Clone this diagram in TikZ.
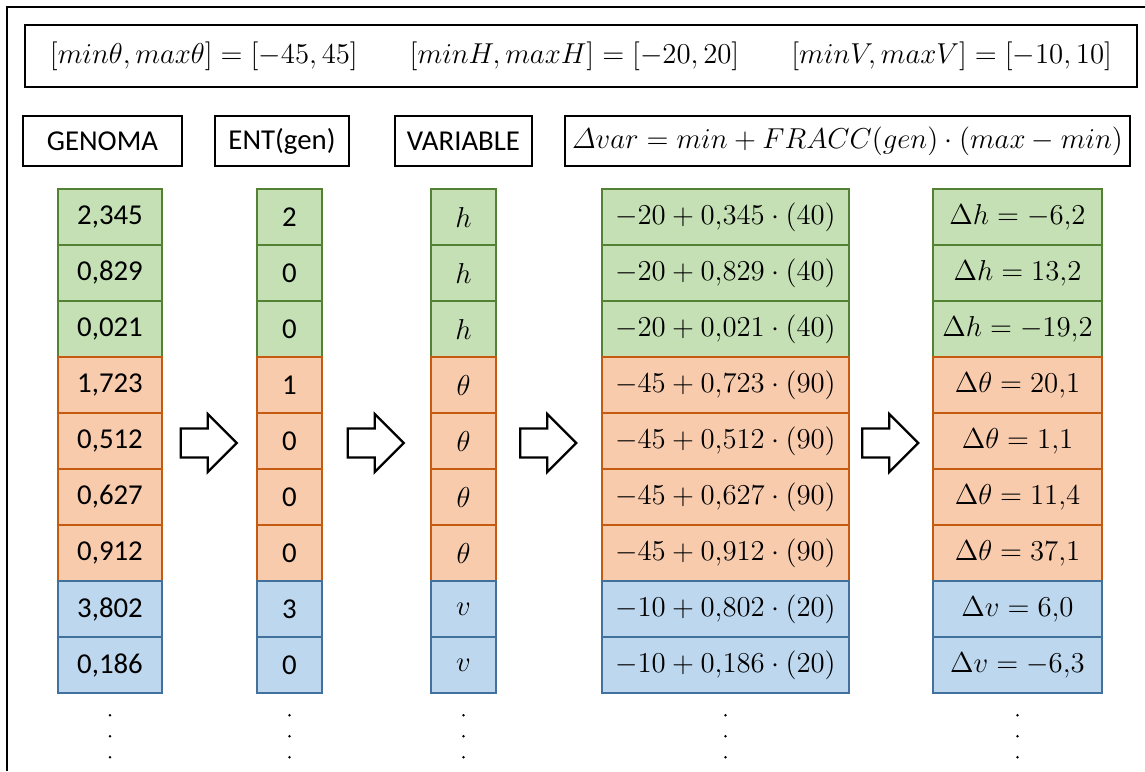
\documentclass[tikz,border=0pt]{standalone}
\usepackage{fontspec}
\setmainfont{Carlito}
\usepackage{tikz}
\usetikzlibrary{shapes.arrows}
\usetikzlibrary{calc}

\definecolor{gfill}{HTML}{C5E0B4}
\definecolor{gline}{HTML}{548235}
\definecolor{ofill}{HTML}{F8CBAD}
\definecolor{oline}{HTML}{C55A11}
\definecolor{bfill}{HTML}{BDD7EE}
\definecolor{bline}{HTML}{41719C}

\tikzset{
  cell/.style={shape=rectangle, line width=1.2pt, minimum height=28pt, inner sep=0pt, font=\fontsize{14.4}{17}\selectfont},
  grn/.style={cell, fill=gfill, draw=gline},
  org/.style={cell, fill=ofill, draw=oline},
  blu/.style={cell, fill=bfill, draw=bline},
  head/.style={shape=rectangle, draw=black, line width=0.8pt, minimum height=25pt, inner sep=0pt, font=\fontsize{14.4}{17}\selectfont},
  blockarrow/.style={single arrow, draw=black, fill=white, line width=1.1pt, minimum height=28pt, minimum width=28pt, inner sep=6.7pt, single arrow head extend=7.3pt, xshift=-4pt, yshift=-1pt}
}

\begin{document}
\begin{tikzpicture}[x=0.5pt, y=-0.5pt]
      \useasboundingbox (0,0) rectangle (1145,771);
      \draw [line width=0.8pt] (7,771) |- (1145,7);
      % ranges
      \node (limits) [head, minimum width=556pt, minimum height=31pt] at (581,56) {$[min\theta, max\theta] = [-45, 45]$\hspace{26pt}$[minH, maxH] = [-20, 20]$\hspace{26pt}$[minV, maxV] = [-10, 10]$};
      % column titles
      \node (hgen) [head, minimum width=79.5pt] at (102.5,141) {GENOMA};
      \node (hent) [head, minimum width=67pt] at (282,141) {ENT(gen)};
      \node (hvar) [head, minimum width=68.5pt] at (463.5,141) {VARIABLE};
      \node (hform) [head, minimum width=282.5pt] at (847.5,141) {$\mathnormal{\Delta}var = min + FRACC(gen)\cdot(max-min)$};
      % rows
      \foreach \i/\gn/\en/\vr/\fm/\rs/\cl in {
        1/{2,345}/2/h/{-20+0{,}345\cdot(40)}/{\Delta h=-6{,}2}/grn,
        2/{0,829}/0/h/{-20+0{,}829\cdot(40)}/{\Delta h=13{,}2}/grn,
        3/{0,021}/0/h/{-20+0{,}021\cdot(40)}/{\Delta h=-19{,}2}/grn,
        4/{1,723}/1/\theta/{-45+0{,}723\cdot(90)}/{\Delta\theta=20{,}1}/org,
        5/{0,512}/0/\theta/{-45+0{,}512\cdot(90)}/{\Delta\theta=1{,}1}/org,
        6/{0,627}/0/\theta/{-45+0{,}627\cdot(90)}/{\Delta\theta=11{,}4}/org,
        7/{0,912}/0/\theta/{-45+0{,}912\cdot(90)}/{\Delta\theta=37{,}1}/org,
        8/{3,802}/3/v/{-10+0{,}802\cdot(20)}/{\Delta v=6{,}0}/blu,
        9/{0,186}/0/v/{-10+0{,}186\cdot(20)}/{\Delta v=-6{,}3}/blu}{
        \node (g\i) [\cl, minimum width=52pt] at (110,{217+56*(\i-1)}) {\gn};
        \node (e\i) [\cl, minimum width=32.5pt] at (289.5,{217+56*(\i-1)}) {\en};
        \node (v\i) [\cl, minimum width=32.5pt] at (463.5,{217+56*(\i-1)}) {$\vr$};
        \node (f\i) [\cl, minimum width=123.5pt] at (725.5,{217+56*(\i-1)}) {$\fm$};
        \node (d\i) [\cl, minimum width=84.5pt] at (1017.5,{217+56*(\i-1)}) {$\rs$};
      }
      % continuation dots
      \foreach \c in {g,e,v,f,d}
        \foreach \k in {1,2,3}
          \fill (\c9.south) ++(0,{21*\k}) circle (0.7pt);
      % steps
      \node (a1) [blockarrow] at ($(g5.east)!0.5!(e5.west)$) {};
      \node (a2) [blockarrow] at ($(e5.east)!0.5!(v5.west)$) {};
      \node (a3) [blockarrow] at ($(v5.east)!0.5!(f5.west)$) {};
      \node (a4) [blockarrow] at ($(f5.east)!0.5!(d5.west)$) {};
\end{tikzpicture}
\end{document}
